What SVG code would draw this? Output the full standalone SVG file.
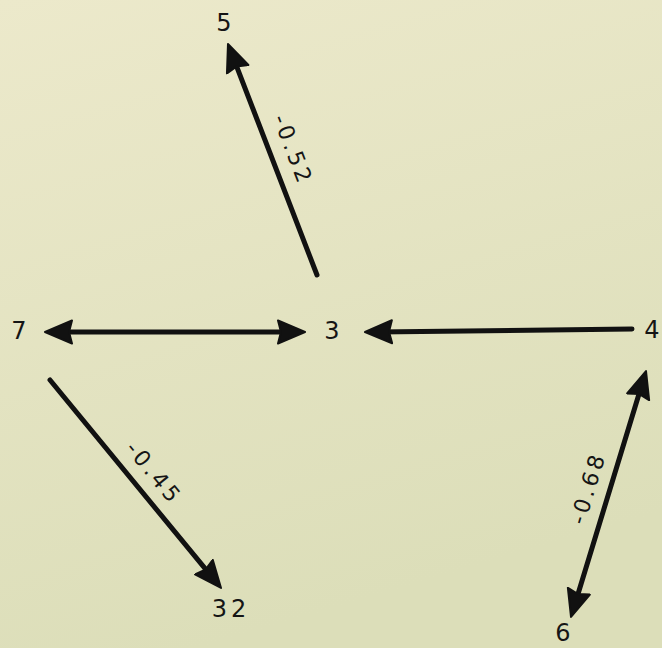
<svg xmlns="http://www.w3.org/2000/svg" width="662" height="648" viewBox="0 0 662 648">
  <defs>
    <linearGradient id="paper" x1="0" y1="0" x2="0.3" y2="1">
      <stop offset="0" stop-color="#ece9cb"/>
      <stop offset="1" stop-color="#dcdeb9"/>
    </linearGradient>
    <marker id="ah" viewBox="0 -13 30 26" markerUnits="userSpaceOnUse" markerWidth="30" markerHeight="26" refX="16" refY="0" orient="auto-start-reverse">
      <path d="M1,-11.5 L28,0 L1,11.5 L4,0 Z" fill="#111" stroke="#111" stroke-width="2" stroke-linejoin="round"/>
    </marker>
    <style>
      .node text { font-family: "DejaVu Sans", "Liberation Sans", sans-serif; font-size: 24px; fill: #151515; text-anchor: middle; dominant-baseline: central; }
      .edge { stroke: #111; stroke-width: 5; fill: none; stroke-linecap: round; }
      .lbl { font-family: "DejaVu Sans", "Liberation Sans", sans-serif; font-size: 22px; fill: #151515; text-anchor: middle; dominant-baseline: central; letter-spacing: 3.5px; }
    </style>
  </defs>
  <rect width="662" height="648" fill="url(#paper)"/>

  <g id="connectors">
    <line class="edge" x1="317" y1="275" x2="232.3" y2="55.2" marker-end="url(#ah)"/>
    <line class="edge" x1="57" y1="332" x2="293" y2="332" marker-start="url(#ah)" marker-end="url(#ah)"/>
    <line class="edge" x1="632" y1="329" x2="377" y2="331.9" marker-end="url(#ah)"/>
    <line class="edge" x1="50" y1="380" x2="213.4" y2="578.7" marker-end="url(#ah)"/>
    <line class="edge" x1="642.5" y1="382.5" x2="574.5" y2="605.5" marker-start="url(#ah)" marker-end="url(#ah)"/>
    <text class="lbl" transform="translate(293,150) rotate(68.9)">-0.52</text>
    <text class="lbl" transform="translate(154,473) rotate(50.6)">-0.45</text>
    <text class="lbl" transform="translate(588,488) rotate(-73)">-0.68</text>
  </g>

  <g id="n5" class="node"><text x="224" y="23">5</text></g>
  <g id="n7" class="node"><text x="19" y="331">7</text></g>
  <g id="n3" class="node"><text x="332" y="331">3</text></g>
  <g id="n4" class="node"><text x="652" y="330">4</text></g>
  <g id="n32" class="node"><text x="231" y="609" style="letter-spacing:4px">32</text></g>
  <g id="n6" class="node"><text x="563" y="633">6</text></g>
</svg>
